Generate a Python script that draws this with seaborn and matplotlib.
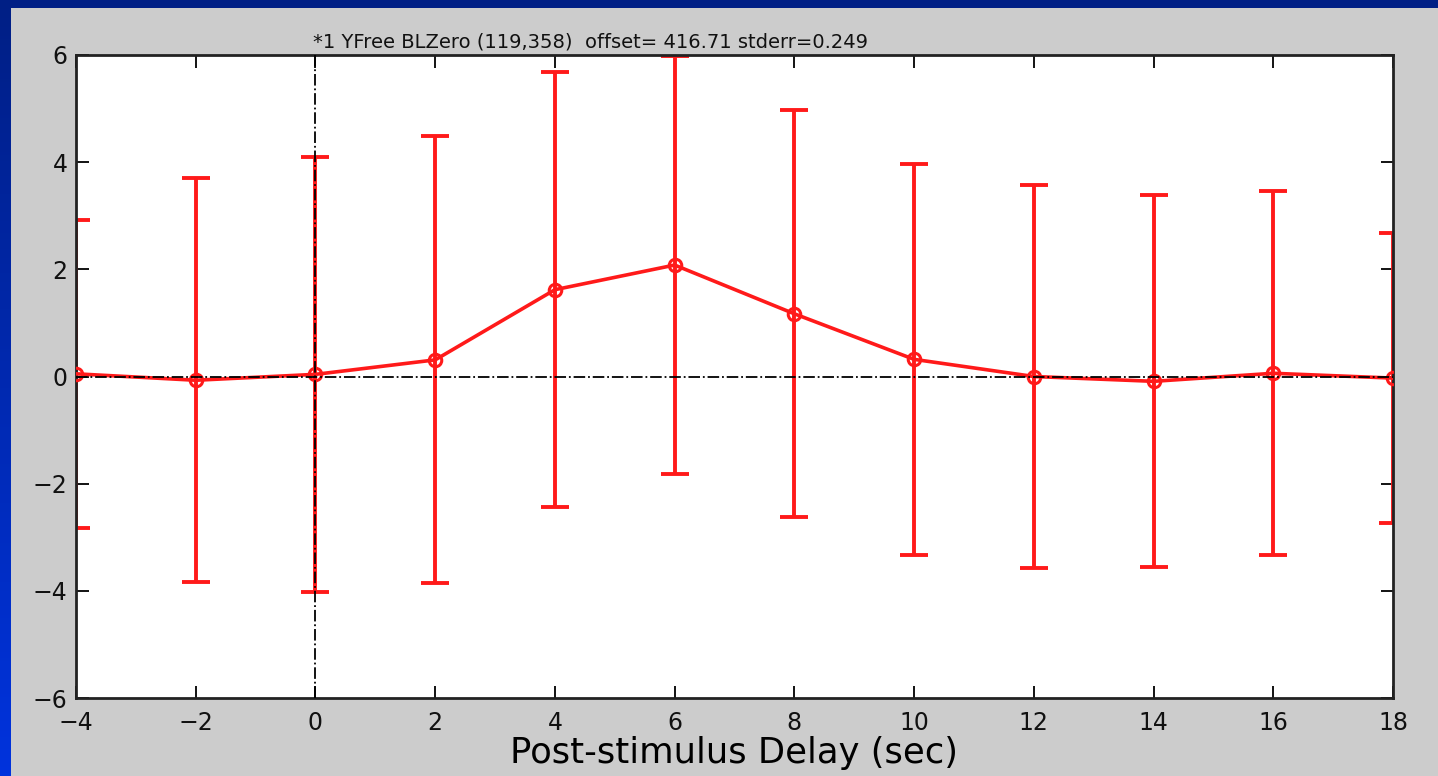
import numpy as np
import pandas as pd
import matplotlib
matplotlib.use("Agg")
import matplotlib.pyplot as plt
import seaborn as sns

# ---- data ----
delay = [-4, -2, 0, 2, 4, 6, 8, 10, 12, 14, 16, 18]
response = [0.05, -0.07, 0.04, 0.31, 1.62, 2.08, 1.17, 0.32, 0.00, -0.09, 0.06, -0.03]
stderr_bar = [2.88, 3.77, 4.06, 4.17, 4.06, 3.90, 3.80, 3.65, 3.57, 3.47, 3.40, 2.71]
xticks = [-4, -2, 0, 2, 4, 6, 8, 10, 12, 14, 16, 18]
yticks = [-6, -4, -2, 0, 2, 4, 6]
title_text = "*1 YFree BLZero (119,358)  offset= 416.71 stderr=0.249"
xlabel_text = "Post-stimulus Delay (sec)"

sns.set_theme(style="white")
plt.rcParams['font.family'] = ['DejaVu Sans']

W, H = 1438, 776
fig = plt.figure(figsize=(W / 100, H / 100), dpi=100)
fig.patch.set_facecolor('#cccccc')

# blue frame (top band + left gradient band)
bg = fig.add_axes([0, 0, 1, 1], zorder=-10)
bg.set_axis_off()
grad = np.linspace(0, 1, 256).reshape(-1, 1)
top_c = np.array([0x00, 0x1f, 0x85]) / 255
bot_c = np.array([0x00, 0x33, 0xdd]) / 255
img = top_c[None, None, :] * (1 - grad[:, :, None]) + bot_c[None, None, :] * grad[:, :, None]
bg.imshow(img, extent=[0, 11 / W, 0, 1], aspect='auto', transform=bg.transAxes)
bg.add_patch(plt.Rectangle((0, 1 - 8 / H), 1, 8 / H, transform=bg.transAxes,
                           color='#001f85', lw=0))
bg.add_patch(plt.Rectangle((11 / W, 0), 1 - 11 / W, 1 - 8 / H, transform=bg.transAxes,
                           color='#cccccc', lw=0))
bg.set_xlim(0, 1); bg.set_ylim(0, 1)

ax_l, ax_r, ax_t, ax_b = 76, 1393, 55, 698
ax = fig.add_axes([ax_l / W, 1 - ax_b / H, (ax_r - ax_l) / W, (ax_b - ax_t) / H])
ax.set_facecolor('white')

df = pd.DataFrame({"delay": delay, "response": response, "err": stderr_bar})
red = '#ff1a1a'

ax.errorbar(df["delay"], df["response"], yerr=df["err"], fmt='none',
            ecolor=red, elinewidth=2.8, capsize=10, capthick=2.8, zorder=2)
sns.lineplot(data=df, x="delay", y="response", ax=ax, color=red, lw=2.6,
             marker='o', markersize=9, markerfacecolor='none',
             markeredgecolor=red, markeredgewidth=2.2, zorder=3)

ax.axhline(0, color='black', lw=1.3, ls='-.', zorder=4)
ax.axvline(0, color='black', lw=1.3, ls='-.', zorder=4)

ax.set_xlim(-4, 18)
ax.set_ylim(-6, 6)
ax.set_xticks(xticks)
ax.set_yticks(yticks)
ax.set_xticklabels([str(t).replace('-', '\u2212') for t in xticks])
ax.set_yticklabels([str(t).replace('-', '\u2212') for t in yticks])
ax.tick_params(direction='in', length=9, width=1.3, color='black',
               labelsize=17, top=True, right=True, bottom=True, left=True,
               labelcolor='#111111')
ax.tick_params(axis='x', pad=9)
ax.tick_params(axis='y', pad=6)
for s in ax.spines.values():
    s.set_color('#222222')
    s.set_linewidth(2)

ax.set_xlabel(xlabel_text, fontsize=25.5, color='black', labelpad=1)
ax.set_ylabel("")
ax.text(0.18, 1.006, title_text, transform=ax.transAxes, fontsize=14,
        ha='left', va='bottom', color='#111111')

fig.savefig("out.png", dpi=100, facecolor=fig.get_facecolor())
